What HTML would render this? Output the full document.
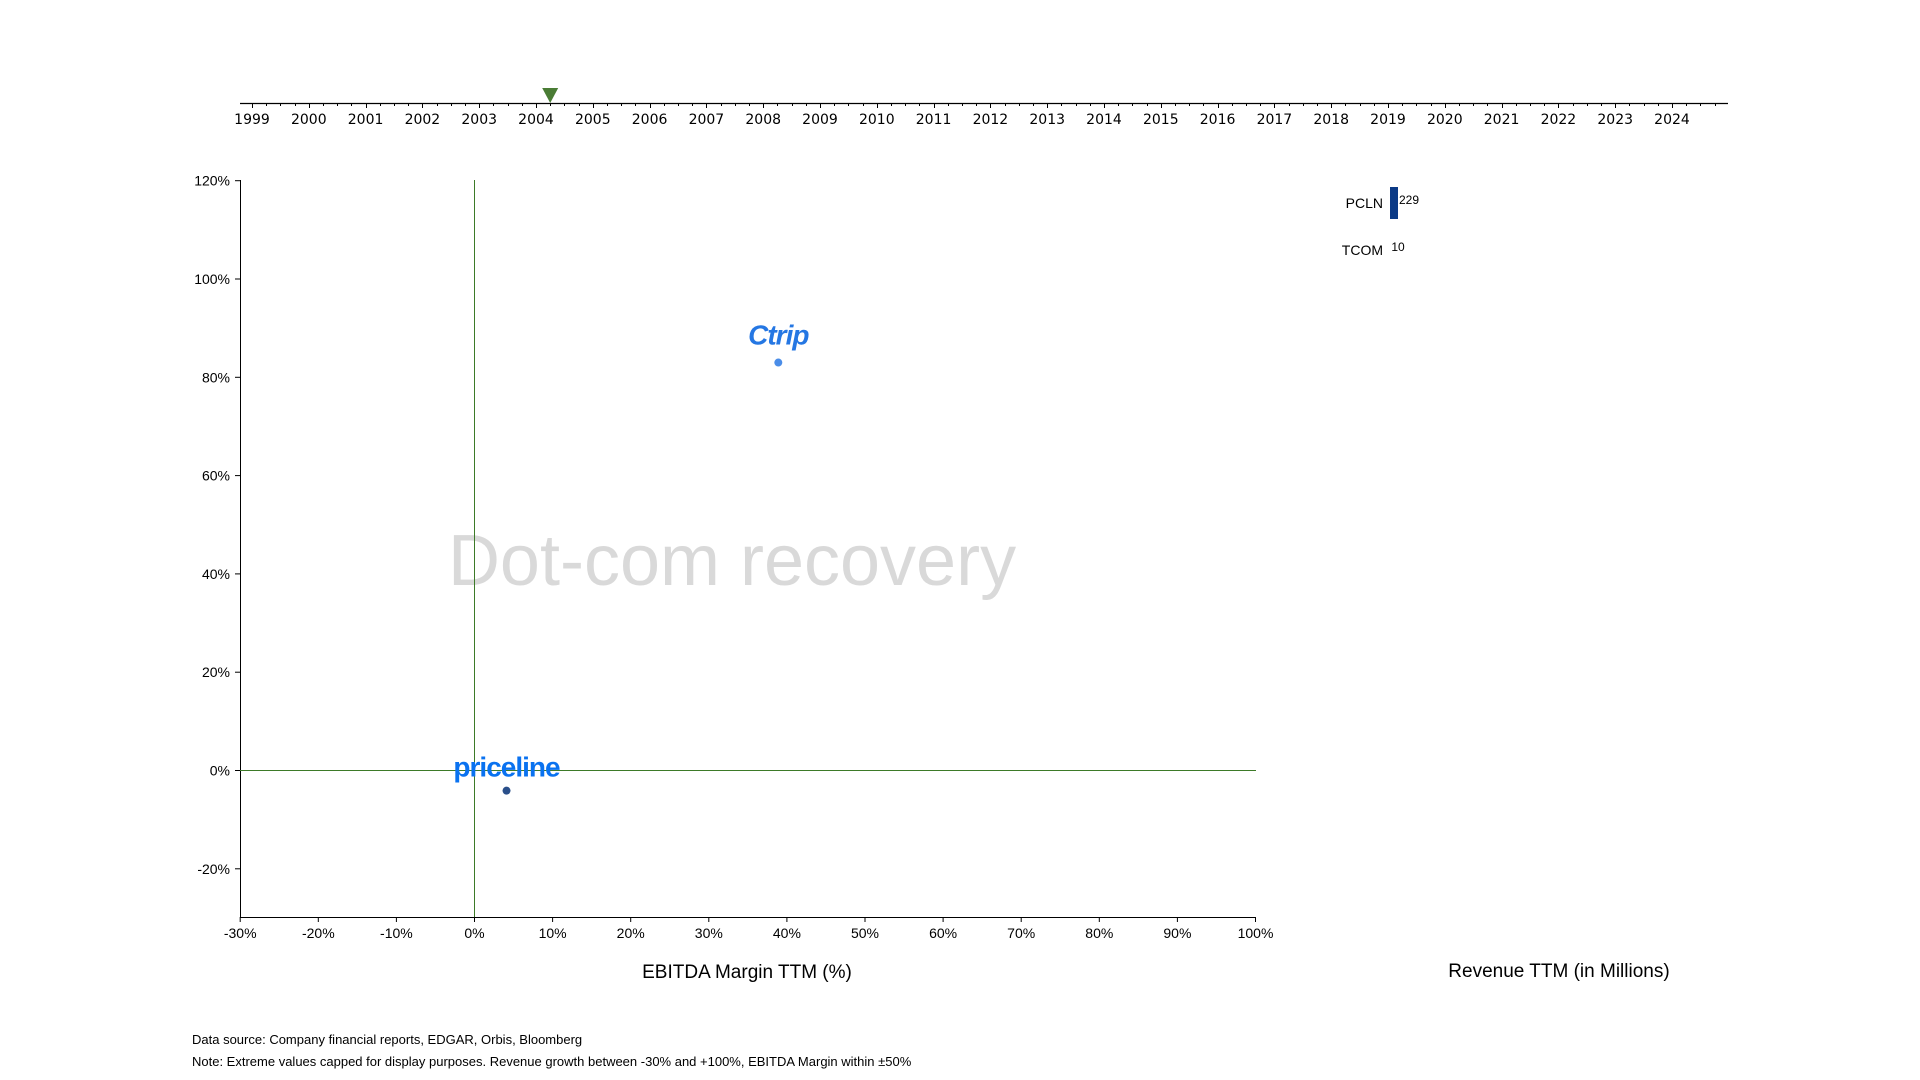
<!DOCTYPE html>
<html><head><meta charset="utf-8"><style>
html,body{margin:0;padding:0;background:#fff;width:1920px;height:1080px;overflow:hidden}
svg{display:block;font-family:"DejaVu Sans","Liberation Sans",sans-serif}
</style></head><body>
<svg id="chart" width="1920" height="1080" viewBox="0 0 1920 1080"></svg>
<script>
const years = [1999,2000,2001,2002,2003,2004,2005,2006,2007,2008,2009,2010,2011,2012,2013,2014,2015,2016,2017,2018,2019,2020,2021,2022,2023,2024];
const currentTime = 2004.25;
const xTicks = [-30,-20,-10,0,10,20,30,40,50,60,70,80,90,100];
const yTicks = [-20,0,20,40,60,80,100,120];
const companies = ["Ctrip","priceline"];
const margins = [38.9,4.1];
const growth = [83.0,-4.1];
const dotColors = ["#4a8de8","#2a4f8a"];
const revTickers = ["PCLN","TCOM"];
const revValues = [229,10];

const NS="http://www.w3.org/2000/svg";
const svg=document.getElementById('chart');
function mk(tag,attrs,parent){const e=document.createElementNS(NS,tag);for(const k in attrs)e.setAttribute(k,attrs[k]);(parent||svg).appendChild(e);return e;}
function txt(s,attrs,parent){const e=mk('text',attrs,parent);e.textContent=s;return e;}
const LS='"Liberation Sans", sans-serif';

// timeline
const tx=y=>252+(y-1999)*56.8;
const tl=mk('g',{});


mk('line',{x1:240,y1:103.5,x2:1728,y2:103.5,stroke:'#000','stroke-width':1.2},tl);
for(let y=1999-0.25;y<=2025.25;y+=0.25){const X=Math.round(tx(y))+0.5;if(X<240||X>1728)continue;mk('line',{x1:X,y1:103,x2:X,y2:Math.abs(y-Math.round(y))<0.01?108:106,stroke:'#000','stroke-width':1},tl);}
years.forEach(y=>{const t=txt(String(y),{x:tx(y),y:124,'font-size':14,'text-anchor':'middle',fill:'#000'},tl);

});
const mx=tx(currentTime);
const mark=mk('path',{d:`M${mx-8},88 L${mx+8},88 L${mx},103 Z`,fill:'#4a7c35'},tl);



// scatter axes
const sx=v=>474.5+v*7.81;
const sy=v=>770.5-v*4.915;
const g=mk('g',{});


const wm=txt('Dot-com recovery',{x:732,y:585,'font-size':72,'text-anchor':'middle',fill:'#d9d9d9','font-family':LS},g);


mk('line',{x1:240.5,y1:180,x2:240.5,y2:917,stroke:'#000','stroke-width':1},g);
mk('line',{x1:240,y1:917.5,x2:1256,y2:917.5,stroke:'#000','stroke-width':1},g);
mk('line',{x1:sx(0),y1:180,x2:sx(0),y2:917,stroke:'#3d7a28','stroke-width':1},g);
mk('line',{x1:240,y1:sy(0),x2:1256,y2:sy(0),stroke:'#3d7a28','stroke-width':1},g);
yTicks.forEach(v=>{mk('line',{x1:235,y1:sy(v),x2:240,y2:sy(v),stroke:'#000'},g);
const t=txt(v+'%',{x:230,y:sy(v)+5,'font-size':14,'text-anchor':'end',fill:'#000','font-family':LS},g);

});
xTicks.forEach(v=>{mk('line',{x1:sx(v),y1:917,x2:sx(v),y2:922,stroke:'#000'},g);
const t=txt(v+'%',{x:sx(v),y:938,'font-size':14,'text-anchor':'middle',fill:'#000','font-family':LS},g);

});
const xt=txt('EBITDA Margin TTM (%)',{x:747,y:978,'font-size':19,'text-anchor':'middle',fill:'#000','font-family':LS},g);



companies.forEach((c,i)=>{
 const X=sx(margins[i]),Y=sy(growth[i]);
 const d=mk('circle',{cx:X,cy:Y,r:4,fill:dotColors[i]},g);
 
 
 let l;
 if(c==='Ctrip'){l=txt('Ctrip',{x:X,y:Y-18,'font-size':28,'font-weight':'bold','font-style':'italic','text-anchor':'middle',fill:'#2577e3','font-family':LS,'letter-spacing':'-1'},g);}
 else{l=txt('priceline',{x:X,y:Y-14,'font-size':28,'font-weight':'bold','text-anchor':'middle',fill:'#0a72f0','font-family':LS,'letter-spacing':'-1'},g);}
 
 
});

// revenue bars
const rb=mk('g',{});


const bx=1390, bscale=8/229;
revTickers.forEach((t,i)=>{
 const cy=203+i*47;
 const lab=txt(t,{x:1383,y:cy+5,'font-size':14,'text-anchor':'end',fill:'#000','font-family':LS},rb);
 
 
 const w=revValues[i]*bscale;
 if(revValues[i]>50){
 const r=mk('rect',{x:bx,y:cy-16,width:w,height:32,fill:'#0b3a86'},rb);
 
 }
 const v=txt(String(revValues[i]),{x:bx+w+1,y:cy+1,'font-size':12,fill:'#000','font-family':LS},rb);
 
 
});
const rt=txt('Revenue TTM (in Millions)',{x:1559,y:977,'font-size':19,'text-anchor':'middle',fill:'#000','font-family':LS},rb);



const f1=txt('Data source: Company financial reports, EDGAR, Orbis, Bloomberg',{x:192,y:1044,'font-size':13,fill:'#000','font-family':LS});


const f2=txt('Note: Extreme values capped for display purposes. Revenue growth between -30% and +100%, EBITDA Margin within \u00b150%',{x:192,y:1066,'font-size':13,fill:'#000','font-family':LS});


</script>
</body></html>
